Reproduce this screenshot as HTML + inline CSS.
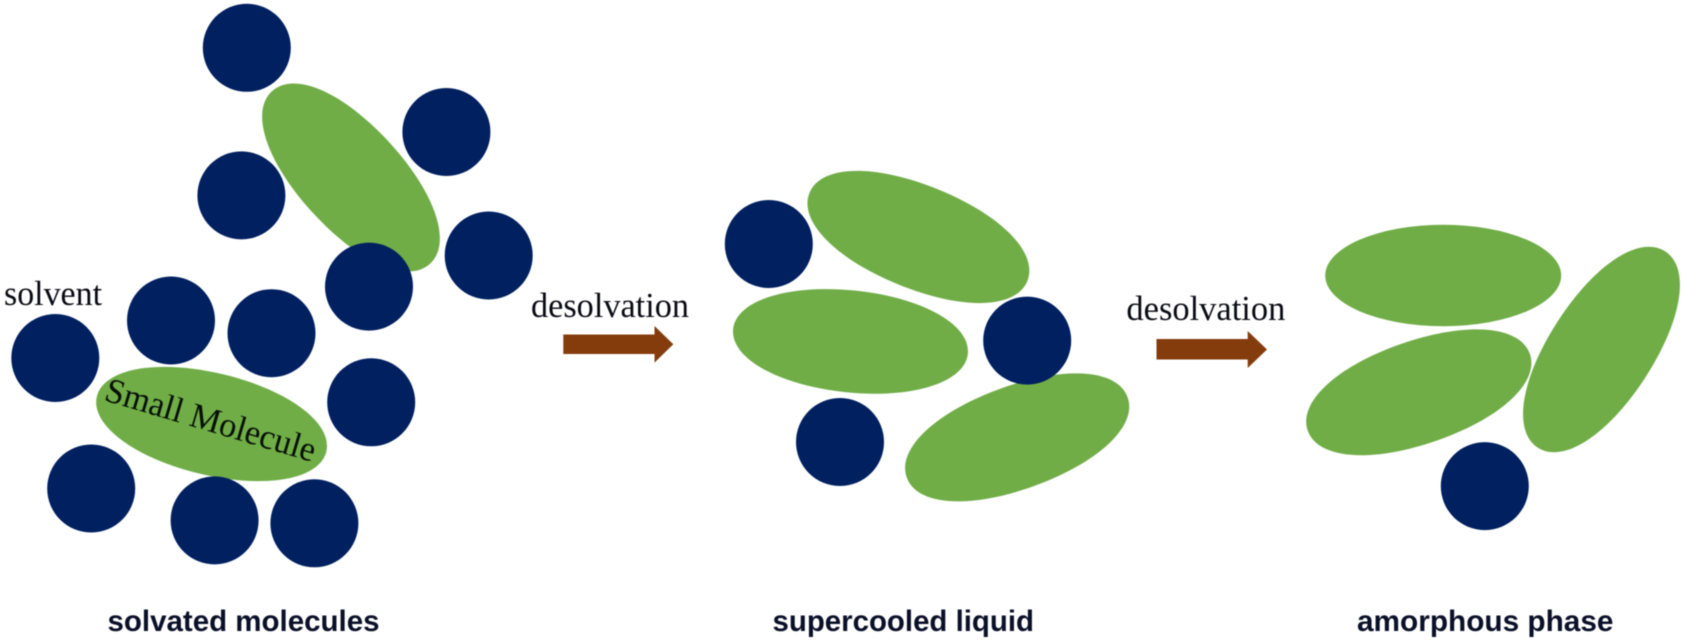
<!DOCTYPE html>
<html><head><meta charset="utf-8"><style>html,body{margin:0;padding:0;background:#fff;overflow:hidden}svg{display:block;filter:blur(.45px)}</style></head>
<body>
<svg xmlns="http://www.w3.org/2000/svg" width="1682" height="641" viewBox="0 0 1682 641">
<defs>
<path id="b" d="M-1 0C-1 -.585 -.585 -1 0 -1C.585 -1 1 -.585 1 0C1 .585 .585 1 0 1C-.585 1 -1 .585 -1 0Z"/>
<path id="m" d="M-1 0C-1 -.57 -.57 -1 0 -1C.57 -1 1 -.57 1 0C1 .57 .57 1 0 1C-.57 1 -1 .57 -1 0Z"/>
</defs>
<g fill="#70AD47">
<use href="#b" transform="translate(351 177.5) rotate(47.5) scale(117 52)"/>
<use href="#m" transform="translate(211.6 424) rotate(13.5) scale(118 51)"/>
<use href="#b" transform="translate(918.4 237) rotate(22) scale(117.5 51.5)"/>
<use href="#m" transform="translate(850.5 341.4) rotate(6) scale(118 51)"/>
<use href="#b" transform="translate(1017.2 437.4) rotate(-20) scale(117.5 51.5)"/>
<ellipse cx="1443.2" cy="275.5" rx="118" ry="50.7"/>
<use href="#b" transform="translate(1418.8 392.3) rotate(-19) scale(117.5 51.5)"/>
<use href="#b" transform="translate(1601.5 349.5) rotate(-57) scale(117 52)"/>
</g>
<g fill="#002060">
<circle cx="246.8" cy="47.8" r="44"/><circle cx="446.4" cy="132" r="44"/><circle cx="241.4" cy="195.4" r="44"/>
<circle cx="488.7" cy="255.5" r="44"/><circle cx="369" cy="286.6" r="44"/><circle cx="171" cy="320.5" r="44"/>
<circle cx="271.5" cy="333.2" r="44"/><circle cx="55.3" cy="358" r="44"/><circle cx="371.2" cy="402.3" r="44"/>
<circle cx="91.2" cy="488.5" r="44"/><circle cx="214.6" cy="520.4" r="44"/><circle cx="314.4" cy="523.3" r="44"/>
<circle cx="768.8" cy="244" r="44"/><circle cx="1027.2" cy="340.6" r="44"/><circle cx="840" cy="442" r="44"/>
<circle cx="1484.8" cy="486.1" r="44"/>
</g>
<g fill="#843C0C">
<polygon points="563.3,334.5 654.5,334.5 654.5,326 673.3,344.3 654.5,362.6 654.5,354 563.3,354"/>
<polygon points="1156.5,339 1247.7,339 1247.7,331 1267,349.5 1247.7,368 1247.7,359.5 1156.5,359.5"/>
</g>
<g font-family="'Liberation Serif',serif" font-size="35" fill="#0a0a14">
<text x="4" y="305" textLength="98" lengthAdjust="spacingAndGlyphs">solvent</text>
<text x="531" y="317" textLength="158" lengthAdjust="spacingAndGlyphs">desolvation</text>
<text x="1126.4" y="320" textLength="159" lengthAdjust="spacingAndGlyphs">desolvation</text>
<text x="103" y="400" transform="rotate(16.5 103 400)" textLength="218" lengthAdjust="spacingAndGlyphs" fill="#061006">Small Molecule</text>
</g>
<g font-family="'Liberation Sans',sans-serif" font-size="30" font-weight="bold" fill="#0a1028">
<text x="107.5" y="631" textLength="272" lengthAdjust="spacingAndGlyphs">solvated molecules</text>
<text x="772.5" y="631" textLength="261.5" lengthAdjust="spacingAndGlyphs">supercooled liquid</text>
<text x="1357" y="631" textLength="256.5" lengthAdjust="spacingAndGlyphs">amorphous phase</text>
</g>
</svg>
</body></html>
